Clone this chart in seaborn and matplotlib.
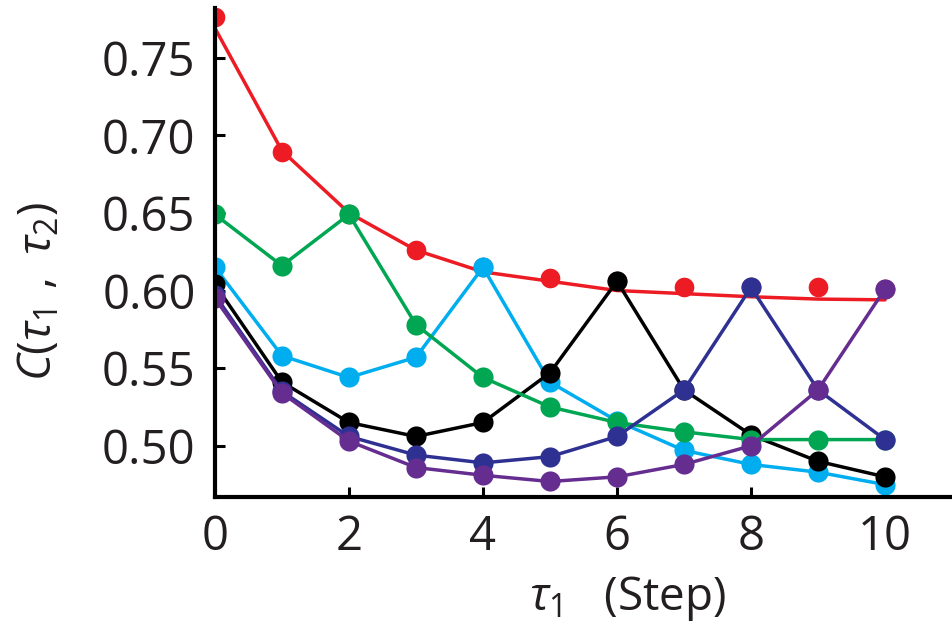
"""Correlation C(tau1, tau2) vs tau1 step, one curve per tau2."""
import matplotlib

matplotlib.use("Agg")
import matplotlib.pyplot as plt
import pandas as pd
import seaborn as sns

steps = list(range(11))

# red: exponential fit (line) and measured points (dots)
red_fit = [0.769, 0.690, 0.650, 0.626, 0.612, 0.606, 0.600, 0.598, 0.596, 0.5945, 0.594]
red_dots = [0.776, 0.689, 0.649, 0.626, 0.615, 0.608, 0.606, 0.602, 0.602, 0.602, 0.601]

cyan = [0.615, 0.558, 0.544, 0.557, 0.615, 0.541, 0.516, 0.497, 0.488, 0.483, 0.475]
black = [0.604, 0.541, 0.515, 0.506, 0.515, 0.547, 0.606, 0.536, 0.507, 0.490, 0.480]
green = [0.649, 0.616, 0.649, 0.578, 0.544, 0.525, 0.515, 0.509, 0.504, 0.504, 0.504]
blue = [0.597, 0.535, 0.506, 0.494, 0.489, 0.493, 0.506, 0.536, 0.602, 0.536, 0.504]
purple = [0.595, 0.534, 0.503, 0.486, 0.481, 0.477, 0.480, 0.488, 0.500, 0.536, 0.601]

series = {"cyan": cyan, "black": black, "green": green, "blue": blue, "purple": purple}
colors = {
    "cyan": "#00aeef",
    "black": "#000000",
    "green": "#00a651",
    "blue": "#2e3192",
    "purple": "#662d91",
}
red_color = "#ed1c24"

df = pd.concat(
    [pd.DataFrame({"step": steps, "C": v, "series": k}) for k, v in series.items()],
    ignore_index=True,
)

sns.set_theme(style="ticks")
plt.rcParams["font.family"] = ["Open Sans", "DejaVu Sans"]
plt.rcParams["mathtext.fontset"] = "custom"
plt.rcParams["mathtext.rm"] = "Open Sans"
plt.rcParams["mathtext.it"] = "Open Sans:italic"

fig = plt.figure(figsize=(9.52, 6.24), dpi=100)
ax = fig.add_axes([0.2258, 0.2035, 0.7742, 0.7837])

# red fit first so the other dots sit on top
sns.lineplot(x=steps, y=red_fit, color=red_color, lw=2.5, ax=ax, zorder=2)
sns.scatterplot(x=steps, y=red_dots, color=red_color, s=200, linewidth=0, ax=ax, zorder=2)

for name in series:
    sub = df[df["series"] == name]
    sns.lineplot(
        data=sub, x="step", y="C", color=colors[name], lw=2.5,
        marker="o", markersize=14.5, markeredgewidth=0, ax=ax, zorder=3,
    )

ax.set_xlim(0, 11)
ax.set_ylim(0.467, 0.782)
ax.set_xticks([0, 2, 4, 6, 8, 10])
ax.set_yticks([0.50, 0.55, 0.60, 0.65, 0.70, 0.75])
ax.set_yticklabels(["0.50", "0.55", "0.60", "0.65", "0.70", "0.75"])

sns.despine(ax=ax)
for side in ("left", "bottom"):
    ax.spines[side].set_linewidth(3)
    ax.spines[side].set_color("black")
    ax.spines[side].set_zorder(5)

ax.tick_params(axis="both", direction="in", length=7, width=2.2,
               labelsize=34, colors="black", labelcolor="#231f20")
ax.tick_params(axis="y", pad=14)
ax.tick_params(axis="x", pad=12)

ax.set_ylabel(r"$C(\tau_1\ ,\ \tau_2)$", fontsize=33, color="#231f20")
ax.yaxis.set_label_coords(-0.207, 0.42)
ax.set_xlabel(r"$\tau_1$   (Step)", fontsize=33, color="#231f20")
ax.xaxis.set_label_coords(0.56, -0.158)

fig.savefig("out.png", dpi=100)
plt.close(fig)
